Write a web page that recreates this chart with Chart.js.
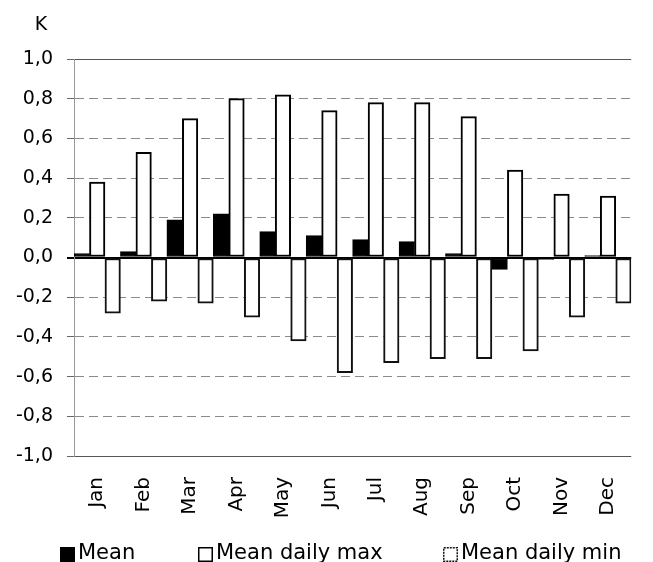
<!DOCTYPE html>
<html>
<head>
<meta charset="utf-8">
<script src="https://cdn.jsdelivr.net/npm/chart.js@4"></script>
<style>
    body { margin: 0; background: #fff; }
    #wrap { width: 653px; height: 562px; }
</style>
</head>
<body>
<div id="wrap"><canvas id="tempChart" width="653" height="562"></canvas></div>
<script>
// Datos
const months = ['Jan', 'Feb', 'Mar', 'Apr', 'May', 'Jun', 'Jul', 'Aug', 'Sep', 'Oct', 'Nov', 'Dec'];
const meanValues = [0.02, 0.03, 0.19, 0.22, 0.13, 0.11, 0.09, 0.08, 0.02, -0.06, -0.01, 0.01];
const maxValues = [0.38, 0.53, 0.70, 0.80, 0.82, 0.74, 0.78, 0.78, 0.71, 0.44, 0.32, 0.31];
const minValues = [-0.28, -0.22, -0.23, -0.30, -0.42, -0.58, -0.53, -0.51, -0.51, -0.47, -0.30, -0.23];
const unitLabel = 'K';

Chart.defaults.font.family = 'DejaVu Sans';
Chart.defaults.color = '#000';

// Etiqueta de unidad sobre el eje Y
const unitPlugin = {
    id: 'unitLabel',
    afterDraw(chart) {
        const ctx = chart.ctx;
        const area = chart.chartArea;
        ctx.save();
        ctx.font = '19px "DejaVu Sans"';
        ctx.fillStyle = '#000';
        ctx.textAlign = 'center';
        ctx.textBaseline = 'middle';
        ctx.fillText(unitLabel, area.left - 33, area.top - 34);
        ctx.restore();
    }
};

// Leyenda inferior (posiciones como en el original)
const legendX = [60, 198, 443];
const legendPlugin = {
    id: 'bottomLegend',
    afterDraw(chart) {
        const ctx = chart.ctx;
        const y = 547;
        ctx.save();
        ctx.font = '21px "DejaVu Sans"';
        ctx.textBaseline = 'middle';
        ctx.textAlign = 'left';
        chart.data.datasets.forEach((ds, i) => {
            const x = legendX[i];
            ctx.fillStyle = ds.backgroundColor;
            ctx.fillRect(x, y, 15, 15);
            ctx.lineWidth = 1.5;
            ctx.strokeStyle = ds.borderColor;
            ctx.setLineDash(i === 2 ? [2, 1] : []);
            ctx.strokeRect(x + 0.75, y + 0.75, 13.5, 13.5);
            ctx.setLineDash([]);
            ctx.fillStyle = '#000';
            ctx.fillText(ds.label, x + 18, y + 7);
        });
        ctx.restore();
    }
};

const ctx = document.getElementById('tempChart').getContext('2d');
new Chart(ctx, {
    type: 'bar',
    data: {
        labels: months,
        datasets: [{
            label: 'Mean',
            data: meanValues,
            backgroundColor: '#000',
            borderColor: '#000',
            borderWidth: 1
        }, {
            label: 'Mean daily max',
            data: maxValues,
            backgroundColor: '#fff',
            borderColor: '#000',
            borderWidth: 2
        }, {
            label: 'Mean daily min',
            data: minValues,
            backgroundColor: '#fff',
            borderColor: '#111',
            borderWidth: 2
        }]
    },
    options: {
        responsive: false,
        animation: false,
        layout: {
            padding: { top: 59, left: 5, right: 0, bottom: 0 }
        },
        datasets: {
            bar: {
                categoryPercentage: 1,
                barPercentage: 1,
                borderSkipped: false
            }
        },
        scales: {
            x: {
                grid: { display: false, drawTicks: false },
                border: { display: false },
                ticks: {
                    minRotation: 90,
                    maxRotation: 90,
                    padding: 21,
                    font: { size: 20 }
                },
                afterFit(scale) { scale.height = 106; }
            },
            y: {
                min: -1,
                max: 1,
                ticks: {
                    stepSize: 0.2,
                    padding: 14,
                    font: { size: 19 },
                    callback: v => v.toFixed(1).replace('.', ',')
                },
                grid: {
                    color: c => {
                        const v = Math.round(c.tick.value * 10) / 10;
                        if (v === 0) return '#000';
                        if (Math.abs(v) === 1) return '#555';
                        return '#8a8a8a';
                    },
                    lineWidth: c => (Math.round(c.tick.value * 10) === 0 ? 2 : 1),
                    tickLength: 7,
                    tickColor: c => (Math.round(c.tick.value * 10) === 0 ? '#000' : '#666'),
                    tickBorderDash: []
                },
                border: {
                    color: '#999',
                    width: 1,
                    dash: c => {
                        if (!c.tick) return [];
                        const v = Math.round(c.tick.value * 10);
                        return (v === 0 || Math.abs(v) === 10) ? [] : [9, 5];
                    }
                },
                afterFit(scale) { scale.width = 69; }
            }
        },
        plugins: {
            legend: { display: false },
            tooltip: { enabled: false }
        }
    },
    plugins: [unitPlugin, legendPlugin]
});
</script>
</body>
</html>
